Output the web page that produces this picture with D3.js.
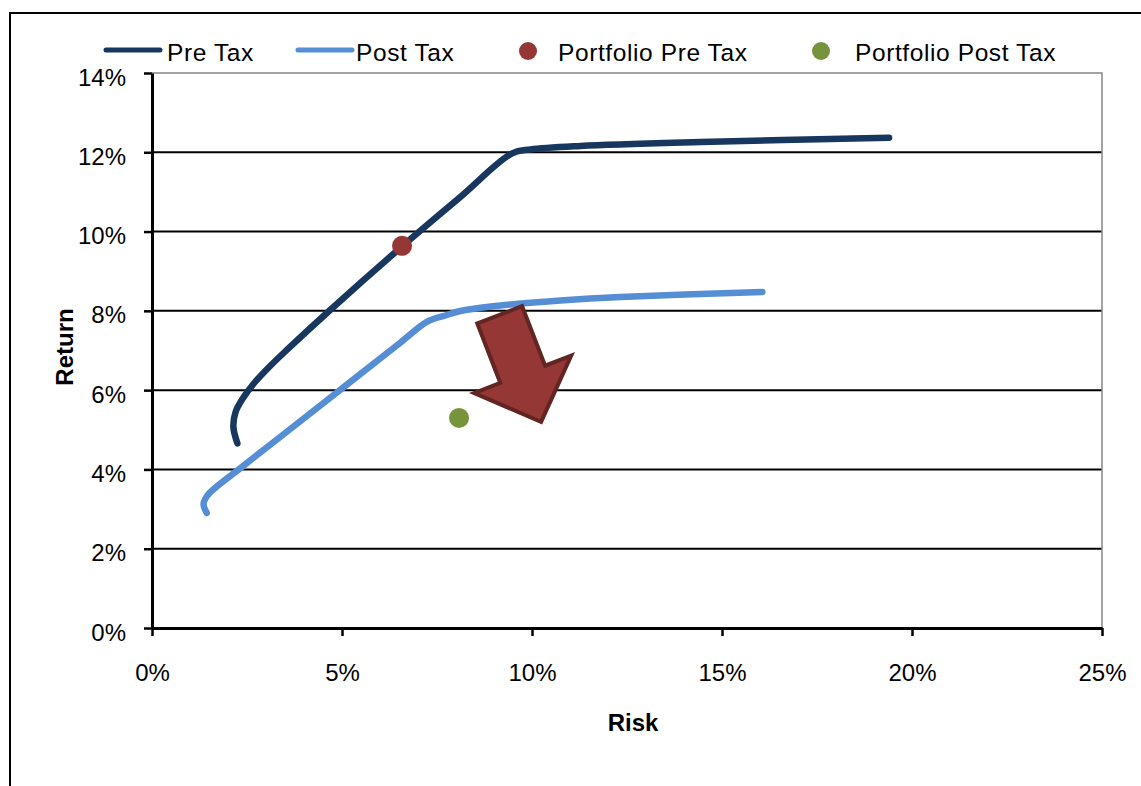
<!DOCTYPE html>
<html>
<head>
<meta charset="utf-8">
<script src="https://cdn.jsdelivr.net/npm/d3@7"></script>
<style>
  body { margin: 0; background: #fff; }
  svg { display: block; }
  text { font-family: "Liberation Sans", Arial, Helvetica, sans-serif; fill: #000; }
</style>
</head>
<body>
<svg id="chart" width="1141" height="786"></svg>
<script>
// Efficient frontier, before and after tax (risk vs. return, as fractions)
const preTaxRisk   = [0.02247, 0.02142, 0.02200, 0.02397, 0.02713, 0.03109, 0.03548, 0.04689, 0.06533, 0.08114, 0.09476, 0.09958, 0.11275, 0.14436, 0.19397];
const preTaxReturn = [0.04659, 0.05070, 0.05449, 0.05802, 0.06205, 0.06609, 0.07013, 0.08022, 0.09586, 0.10872, 0.11974, 0.12070, 0.12159, 0.12259, 0.12368];

const postTaxRisk   = [0.01441, 0.01357, 0.01449, 0.01660, 0.02318, 0.03372, 0.05129, 0.06533, 0.07245, 0.07719, 0.08114, 0.09168, 0.10748, 0.12329, 0.16062];
const postTaxReturn = [0.02901, 0.03128, 0.03330, 0.03532, 0.04026, 0.04818, 0.06140, 0.07197, 0.07729, 0.07883, 0.07996, 0.08135, 0.08261, 0.08350, 0.08476];

// Single portfolio positions
const portfolioNames  = ["Portfolio Pre Tax", "Portfolio Post Tax"];
const portfolioRisk   = [0.0658, 0.0808];
const portfolioReturn = [0.0964, 0.0530];

// Arrow showing the move from pre-tax to post-tax (tail centre -> tip)
const arrowRisk   = [0.0915, 0.1024];
const arrowReturn = [0.0790, 0.0520];

// Axis ticks
const xTicks = [0, 0.05, 0.10, 0.15, 0.20, 0.25];
const yTicks = [0, 0.02, 0.04, 0.06, 0.08, 0.10, 0.12, 0.14];

const colors = {
  pre: "#17375E",
  post: "#558ED5",
  portPre: "#953735",
  portPost: "#77933C",
  arrowFill: "#953735",
  arrowStroke: "#632523"
};

const svg = d3.select("#chart");
const plot = { left: 152, right: 1102, top: 73, bottom: 628 };

const x = d3.scaleLinear().domain([0, 0.25]).range([plot.left, plot.right]);
const y = d3.scaleLinear().domain([0, 0.14]).range([plot.bottom, plot.top]);
const pct = d3.format(".0%");

// Outer frame
svg.append("rect")
  .attr("x", 10).attr("y", 13)
  .attr("width", 1200).attr("height", 900)
  .attr("fill", "none").attr("stroke", "#000").attr("stroke-width", 2);

// Horizontal gridlines
svg.append("g").selectAll("line")
  .data(yTicks.filter(d => d > 0 && d < 0.14))
  .join("line")
  .attr("x1", plot.left).attr("x2", plot.right)
  .attr("y1", d => y(d)).attr("y2", d => y(d))
  .attr("stroke", "#000").attr("stroke-width", 2);

// Plot-area border (top and right)
svg.append("path")
  .attr("d", `M${plot.left},${y(0.14)}H${x(0.25)}V${plot.bottom}`)
  .attr("fill", "none").attr("stroke", "#868686").attr("stroke-width", 1.5);

// Frontier curves
const line = d3.line().x(d => x(d[0])).y(d => y(d[1])).curve(d3.curveCatmullRom.alpha(0.5));

svg.append("path")
  .datum(postTaxRisk.map((r, i) => [r, postTaxReturn[i]]))
  .attr("d", line)
  .attr("fill", "none").attr("stroke", colors.post)
  .attr("stroke-width", 6.5).attr("stroke-linecap", "round").attr("stroke-linejoin", "round");

svg.append("path")
  .datum(preTaxRisk.map((r, i) => [r, preTaxReturn[i]]))
  .attr("d", line)
  .attr("fill", "none").attr("stroke", colors.pre)
  .attr("stroke-width", 6.5).attr("stroke-linecap", "round").attr("stroke-linejoin", "round");

// Portfolio points
svg.append("g").selectAll("circle")
  .data(portfolioNames)
  .join("circle")
  .attr("cx", (d, i) => x(portfolioRisk[i]))
  .attr("cy", (d, i) => y(portfolioReturn[i]))
  .attr("r", 10)
  .attr("fill", (d, i) => i === 0 ? colors.portPre : colors.portPost);

// Block arrow
(function drawArrow() {
  const x0 = x(arrowRisk[0]), y0 = y(arrowReturn[0]);
  const x1 = x(arrowRisk[1]), y1 = y(arrowReturn[1]);
  const len = Math.hypot(x1 - x0, y1 - y0);
  const ux = (x1 - x0) / len, uy = (y1 - y0) / len;   // along the arrow
  const px = -uy, py = ux;                              // perpendicular
  const shaftHalf = 24, headHalf = 52, headLen = 51;
  const bx = x1 - ux * headLen, by = y1 - uy * headLen;
  const pts = [
    [x0 + px * shaftHalf, y0 + py * shaftHalf],
    [bx + px * shaftHalf, by + py * shaftHalf],
    [bx + px * headHalf,  by + py * headHalf],
    [x1, y1],
    [bx - px * headHalf,  by - py * headHalf],
    [bx - px * shaftHalf, by - py * shaftHalf],
    [x0 - px * shaftHalf, y0 - py * shaftHalf]
  ];
  svg.append("path")
    .attr("d", "M" + pts.map(p => p.join(",")).join("L") + "Z")
    .attr("fill", colors.arrowFill)
    .attr("stroke", colors.arrowStroke)
    .attr("stroke-width", 4)
    .attr("stroke-linejoin", "miter");
})();

// Axes
const xAxis = svg.append("g")
  .attr("transform", `translate(0,${plot.bottom})`)
  .call(d3.axisBottom(x).tickValues(xTicks).tickFormat(pct).tickSize(8).tickSizeOuter(0).tickPadding(28));
const yAxis = svg.append("g")
  .attr("transform", `translate(${plot.left},0)`)
  .call(d3.axisLeft(y).tickValues(yTicks).tickFormat(pct).tickSize(8).tickSizeOuter(0).tickPadding(18));

[xAxis, yAxis].forEach(g => {
  g.select(".domain").attr("stroke", "#000").attr("stroke-width", 3);
  g.selectAll(".tick line").attr("stroke", "#000").attr("stroke-width", 2.5);
  g.selectAll(".tick text").attr("font-size", 24).attr("fill", "#000")
    .style("font-family", '"Liberation Sans", Arial, sans-serif');
});
yAxis.selectAll(".tick text").attr("dy", "0.5em");

// Axis titles
svg.append("text")
  .attr("x", 633).attr("y", 731)
  .attr("text-anchor", "middle")
  .attr("font-size", 24).attr("font-weight", "bold")
  .text("Risk");

svg.append("text")
  .attr("transform", "translate(73,347) rotate(-90)")
  .attr("text-anchor", "middle")
  .attr("font-size", 24).attr("font-weight", "bold")
  .text("Return");

// Legend
const legend = svg.append("g").attr("transform", "translate(0,50)");
const legendItems = [
  { label: "Pre Tax",         type: "line", color: colors.pre,      symX: 106, textX: 167 },
  { label: "Post Tax",        type: "line", color: colors.post,     symX: 298, textX: 356 },
  { label: portfolioNames[0], type: "dot",  color: colors.portPre,  symX: 528, textX: 558 },
  { label: portfolioNames[1], type: "dot",  color: colors.portPost, symX: 821, textX: 855 }
];
legendItems.forEach(item => {
  if (item.type === "line") {
    legend.append("line").attr("x1", item.symX).attr("x2", item.symX + 54).attr("y1", 0).attr("y2", 0)
      .attr("stroke", item.color).attr("stroke-width", 5).attr("stroke-linecap", "round");
  } else {
    legend.append("circle").attr("cx", item.symX).attr("cy", 1).attr("r", 9).attr("fill", item.color);
  }
  legend.append("text").attr("x", item.textX).attr("y", 11)
    .attr("font-size", 24.5).attr("letter-spacing", 0.6).text(item.label);
});
</script>
</body>
</html>
